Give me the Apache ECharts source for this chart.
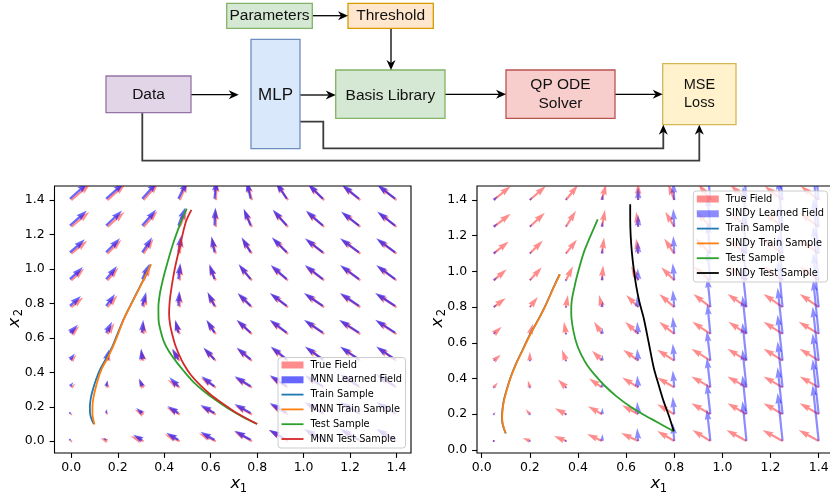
<!DOCTYPE html>
<html><head><meta charset="utf-8">
<script src="https://cdn.jsdelivr.net/npm/echarts@6/dist/echarts.min.js"></script>
<style>html,body{margin:0;padding:0;background:#fff}#c{width:830px;height:496px}</style>
</head><body><div id="c"></div>
<script>
// ---------------- data ----------------
const TICKS = [0, 0.2, 0.4, 0.6, 0.8, 1.0, 1.2, 1.4];

const X1_GRID_LEFT = [0, 0.1556, 0.3111, 0.4667, 0.6222, 0.7778, 0.9333, 1.0889, 1.2444, 1.4];
const X2_GRID_LEFT = [0, 0.1556, 0.3111, 0.4667, 0.6222, 0.7778, 0.9333, 1.0889, 1.2444, 1.4];
const X1_GRID_MNN = [-0.006, 0.1496, 0.3051, 0.4607, 0.6162, 0.7718, 0.9273, 1.0829, 1.2384, 1.394];
const X2_GRID_MNN = [0.008, 0.1636, 0.3191, 0.4747, 0.6302, 0.7858, 0.9413, 1.0969, 1.2524, 1.408];
const X1_GRID_RIGHT = [0.05, 0.2, 0.35, 0.5, 0.65, 0.8, 0.95, 1.1, 1.25, 1.4];
const X2_GRID_RIGHT = [0.05, 0.2, 0.35, 0.5, 0.65, 0.8, 0.95, 1.1, 1.25, 1.4];

// rows: x2 from bottom to top, columns: x1 from left to right
const TRUE_U_LEFT = [
  [-0.05,-0.7,-1.3,-1.5,-1.7,-1.8,-1.9,-1.9,-1.9,-1.9],
  [0.15,-0.2,-0.9,-1.3,-1.5,-1.7,-1.8,-1.9,-1.9,-1.9],
  [0.4,0.0,-0.5,-1.2,-1.5,-1.7,-1.8,-1.9,-1.9,-1.9],
  [0.5,0.2,-0.3,-0.8,-1.2,-1.5,-1.7,-1.8,-1.9,-1.9],
  [0.8,0.7,0.0,-0.5,-0.9,-1.5,-1.8,-1.9,-2.0,-2.0],
  [1.2,1.0,0.3,0.0,-0.8,-1.4,-1.7,-1.9,-2.0,-2.0],
  [1.3,1.1,0.7,0.1,-0.7,-1.3,-1.7,-1.9,-1.9,-1.9],
  [1.6,1.4,1.0,0.2,-0.4,-1.0,-1.5,-1.8,-1.9,-1.9],
  [1.8,1.7,1.4,0.7,0.0,-0.8,-1.5,-1.8,-1.8,-1.8],
  [1.9,1.8,1.5,0.8,0.1,-0.5,-1.2,-1.6,-1.8,-1.8]
];
const TRUE_V_LEFT = [
  [0.03,0.3,0.5,0.7,0.8,1.0,1.1,1.1,1.1,1.1],
  [0.15,0.4,0.5,0.7,0.8,0.9,1.0,1.1,1.1,1.1],
  [0.4,0.7,0.8,0.8,1.0,1.0,1.1,1.1,1.2,1.2],
  [0.6,1.0,1.1,1.1,1.2,1.2,1.3,1.3,1.3,1.3],
  [0.8,1.1,1.2,1.3,1.3,1.3,1.3,1.3,1.3,1.3],
  [1.0,1.2,1.3,1.5,1.4,1.3,1.3,1.3,1.3,1.3],
  [1.2,1.3,1.5,1.6,1.5,1.5,1.4,1.4,1.4,1.4],
  [1.3,1.4,1.5,1.7,1.6,1.5,1.5,1.4,1.4,1.4],
  [1.5,1.5,1.6,1.7,1.8,1.7,1.6,1.5,1.4,1.4],
  [1.6,1.6,1.7,1.8,1.9,1.8,1.7,1.5,1.4,1.4]
];
const MNN_U = [
  [0.0,-0.3,-0.9,-1.2,-1.4,-1.6,-1.8,-1.9,-1.9,-1.9],
  [0.15,0.1,-0.6,-1.1,-1.4,-1.6,-1.7,-1.8,-1.9,-1.9],
  [0.35,0.15,-0.3,-0.9,-1.3,-1.6,-1.7,-1.8,-1.9,-1.9],
  [0.5,0.3,-0.1,-0.6,-1.1,-1.4,-1.6,-1.8,-1.9,-1.9],
  [0.8,0.6,0.1,-0.3,-0.8,-1.4,-1.7,-1.9,-2.0,-2.0],
  [1.1,0.9,0.4,0.1,-0.7,-1.3,-1.7,-1.9,-1.9,-2.0],
  [1.3,1.1,0.7,0.2,-0.5,-1.2,-1.6,-1.8,-1.9,-1.9],
  [1.5,1.4,1.0,0.3,-0.3,-0.9,-1.5,-1.8,-1.9,-1.9],
  [1.7,1.6,1.4,0.7,0.1,-0.7,-1.4,-1.7,-1.8,-1.8],
  [1.8,1.8,1.5,0.9,0.2,-0.4,-1.1,-1.5,-1.7,-1.8]
];
const MNN_V = [
  [0.02,0.2,0.5,0.7,0.8,0.9,1.0,1.1,1.1,1.1],
  [0.15,0.4,0.5,0.7,0.8,0.9,1.0,1.1,1.1,1.1],
  [0.4,0.6,0.8,0.9,1.0,1.0,1.1,1.1,1.2,1.2],
  [0.6,1.0,1.1,1.1,1.2,1.2,1.3,1.3,1.3,1.3],
  [0.8,1.1,1.3,1.3,1.3,1.3,1.3,1.3,1.3,1.3],
  [1.0,1.2,1.4,1.5,1.4,1.3,1.3,1.3,1.3,1.3],
  [1.2,1.3,1.5,1.6,1.5,1.5,1.4,1.4,1.4,1.4],
  [1.3,1.4,1.5,1.7,1.6,1.5,1.5,1.4,1.4,1.4],
  [1.5,1.5,1.6,1.8,1.8,1.7,1.6,1.5,1.4,1.4],
  [1.6,1.6,1.7,1.8,1.9,1.8,1.7,1.5,1.4,1.4]
];
const TRUE_U_RIGHT = [
  [0.05,-0.7,-1.2,-1.5,-1.7,-1.7,-1.8,-2.0,-2.0,-2.0],
  [0.2,-0.4,-1.1,-1.4,-1.6,-1.7,-1.9,-1.9,-1.9,-1.9],
  [0.4,-0.2,-0.8,-1.3,-1.6,-1.7,-1.9,-1.9,-1.9,-1.9],
  [0.7,0.0,-0.4,-1.0,-1.5,-1.7,-1.9,-1.9,-1.9,-1.9],
  [0.8,0.3,-0.2,-0.8,-1.3,-1.5,-1.8,-1.8,-1.9,-2.0],
  [1.2,0.8,0.2,-0.3,-1.2,-1.5,-1.7,-1.9,-1.9,-1.9],
  [1.3,1.2,0.7,0.1,-0.7,-1.3,-1.7,-1.9,-1.9,-1.9],
  [1.5,1.3,1.1,0.2,-0.2,-1.0,-1.5,-1.8,-1.9,-1.9],
  [1.7,1.5,1.0,0.3,-0.2,-0.9,-1.4,-1.7,-1.8,-1.9],
  [1.7,1.6,1.2,0.4,0.0,-0.6,-1.2,-1.6,-1.8,-1.8]
];
const TRUE_V_RIGHT = [
  [0.05,0.3,0.5,0.7,0.8,1.0,1.1,1.1,1.1,1.1],
  [0.2,0.5,0.6,0.8,0.9,1.0,1.1,1.1,1.1,1.1],
  [0.5,0.7,0.8,0.9,1.0,1.0,1.1,1.1,1.1,1.1],
  [0.6,0.9,1.1,1.0,1.1,1.1,1.2,1.2,1.2,1.2],
  [0.7,1.0,1.2,1.2,1.2,1.2,1.2,1.2,1.2,1.2],
  [0.9,1.0,1.2,1.2,1.2,1.3,1.3,1.3,1.3,1.3],
  [1.1,1.3,1.4,1.5,1.4,1.3,1.4,1.4,1.4,1.4],
  [1.2,1.3,1.4,1.6,1.5,1.5,1.5,1.4,1.4,1.4],
  [1.3,1.4,1.6,1.7,1.5,1.5,1.5,1.5,1.4,1.4],
  [1.4,1.4,1.5,1.6,1.7,1.6,1.6,1.5,1.4,1.4]
];
const SINDY_U = [
  [0.05,0.05,0.02,0.05,-0.1,-0.15,-0.35,-0.4,-0.5,-0.6],
  [0.1,0.05,0.02,0.05,-0.1,-0.15,-0.35,-0.4,-0.5,-0.6],
  [0.15,0.1,0.05,0.05,-0.1,-0.15,-0.35,-0.4,-0.5,-0.6],
  [0.2,0.1,0.05,0.05,-0.1,-0.15,-0.35,-0.4,-0.5,-0.6],
  [0.25,0.15,0.05,0.05,-0.1,-0.15,-0.3,-0.4,-0.5,-0.55],
  [0.3,0.15,0.05,0.05,-0.1,-0.15,-0.3,-0.4,-0.45,-0.55],
  [0.35,0.2,0.05,0.05,-0.05,-0.15,-0.3,-0.4,-0.45,-0.55],
  [0.35,0.2,0.1,0.05,-0.05,-0.1,-0.3,-0.35,-0.45,-0.55],
  [0.4,0.25,0.1,0.05,0.0,-0.1,-0.3,-0.35,-0.45,-0.55],
  [0.4,0.25,0.1,0.05,0.0,-0.1,-0.3,-0.35,-0.45,-0.55]
];
const SINDY_V = [
  [0.05,0.05,0.1,0.7,1.3,1.8,3.2,4.0,4.8,5.6],
  [0.1,0.1,0.1,0.65,1.25,1.75,3.1,3.9,4.7,5.5],
  [0.15,0.1,0.12,0.6,1.2,1.7,3.0,3.8,4.6,5.4],
  [0.2,0.15,0.15,0.6,1.2,1.7,3.0,3.8,4.6,5.4],
  [0.25,0.15,0.15,0.6,1.2,1.7,3.0,3.8,4.6,5.4],
  [0.25,0.2,0.2,0.55,1.15,1.7,3.0,3.8,4.6,5.4],
  [0.3,0.2,0.2,0.55,1.2,1.7,3.0,3.8,4.6,5.4],
  [0.35,0.25,0.2,0.55,1.2,1.75,3.1,3.9,4.7,5.5],
  [0.35,0.25,0.25,0.55,1.2,1.8,3.1,4.0,4.8,5.5],
  [0.4,0.3,0.3,0.6,1.25,1.8,3.2,4.0,4.8,5.6]
];

// trajectories
const TRAIN_L_X1 = [0.097,0.088,0.081,0.080,0.084,0.093,0.107,0.125,0.150,0.175,0.195,0.224,0.255,0.285,0.315,0.342];
const TRAIN_L_X2 = [0.100,0.125,0.160,0.200,0.250,0.300,0.360,0.420,0.480,0.545,0.610,0.705,0.790,0.870,0.950,1.027];
const MNN_TRAIN_L_X1 = [0.100,0.095,0.091,0.091,0.095,0.103,0.115,0.131,0.155,0.178,0.198,0.225,0.256,0.286,0.316,0.343];
const MNN_TRAIN_L_X2 = [0.097,0.125,0.160,0.200,0.250,0.300,0.360,0.420,0.480,0.545,0.610,0.705,0.790,0.870,0.950,1.027];
const TEST_L_X1 = [0.800,0.740,0.672,0.620,0.571,0.525,0.485,0.450,0.420,0.398,0.385,0.376,0.375,0.382,0.393,0.406,0.435,0.471,0.497];
const TEST_L_X2 = [0.100,0.140,0.193,0.240,0.290,0.345,0.406,0.465,0.522,0.580,0.638,0.700,0.780,0.862,0.930,0.998,1.134,1.269,1.350];
const MNN_TEST_L_X1 = [0.800,0.750,0.700,0.650,0.600,0.555,0.514,0.485,0.464,0.447,0.435,0.425,0.421,0.423,0.428,0.445,0.468,0.492,0.517];
const MNN_TEST_L_X2 = [0.100,0.135,0.174,0.220,0.270,0.325,0.386,0.445,0.502,0.560,0.618,0.680,0.740,0.800,0.862,0.998,1.134,1.269,1.343];

const TRAIN_R_X1 = [0.100,0.092,0.086,0.084,0.086,0.091,0.100,0.119,0.140,0.167,0.200,0.237,0.265,0.295,0.324];
const TRAIN_R_X2 = [0.093,0.120,0.150,0.180,0.225,0.272,0.320,0.403,0.475,0.552,0.645,0.735,0.810,0.900,0.984];
const SINDY_TRAIN_R_X1 = [0.100,0.093,0.087,0.085,0.087,0.092,0.101,0.120,0.141,0.168,0.201,0.238,0.266,0.296,0.325];
const SINDY_TRAIN_R_X2 = [0.093,0.120,0.150,0.180,0.225,0.272,0.320,0.403,0.475,0.552,0.645,0.735,0.810,0.900,0.984];
const TEST_R_X1 = [0.798,0.730,0.673,0.620,0.560,0.507,0.470,0.437,0.413,0.396,0.382,0.373,0.372,0.375,0.385,0.396,0.424,0.458,0.482];
const TEST_R_X2 = [0.104,0.155,0.197,0.240,0.300,0.365,0.420,0.477,0.535,0.589,0.660,0.739,0.790,0.844,0.910,0.974,1.105,1.217,1.292];
const SINDY_TEST_R_X1 = [0.798,0.778,0.756,0.735,0.715,0.694,0.673,0.655,0.642,0.632,0.624,0.619,0.617,0.617];
const SINDY_TEST_R_X2 = [0.104,0.190,0.272,0.365,0.459,0.600,0.739,0.830,0.918,1.010,1.105,1.200,1.292,1.376];

const LEFT_LEGEND = ['True Field', 'MNN Learned Field', 'Train Sample', 'MNN Train Sample', 'Test Sample', 'MNN Test Sample'];
const RIGHT_LEGEND = ['True Field', 'SINDy Learned Field', 'Train Sample', 'SINDy Train Sample', 'Test Sample', 'SINDy Test Sample'];
const DIAGRAM_LABELS = ['Parameters', 'Threshold', 'MLP', 'Data', 'Basis Library', 'QP ODE\nSolver', 'MSE\nLoss'];

// ---------------- styles / layout ----------------
const RED = 'rgba(255,0,0,0.45)';
const BLUE_L = 'rgba(0,0,255,0.6)';
const BLUE_R = 'rgba(0,0,255,0.45)';
const C_TRAIN = '#1f77b4', C_MTRAIN = '#ff7f0e', C_TEST = '#2ca02c', C_MTEST = '#d62728', C_STEST = '#000000';
const ARROW_SCALE = 10, SHAFT_W = 2.2, HEAD_W = 6.6, HEAD_L = 11, HEAD_AL = 9.9;
const FONT = 'DejaVu Sans';

function quiverData(xs, ys, U, V) {
  const out = [];
  for (let j = 0; j < ys.length; j++)
    for (let i = 0; i < xs.length; i++) out.push([xs[i], ys[j], U[j][i], V[j][i]]);
  return out;
}
function arrowRenderer(color) {
  return function (params, api) {
    const p = api.coord([api.value(0), api.value(1)]);
    const dx = api.value(2) * ARROW_SCALE, dy = -api.value(3) * ARROW_SCALE;
    const L = Math.hypot(dx, dy);
    let pts;
    if (L < SHAFT_W) {
      const r = SHAFT_W / 2;
      pts = [];
      for (let k = 0; k < 6; k++) pts.push([p[0] + r * Math.cos(k * Math.PI / 3), p[1] + r * Math.sin(k * Math.PI / 3)]);
    } else {
      let s = 1, Lr = L;
      if (L < HEAD_L) { s = L / HEAD_L; Lr = HEAD_L; }
      const w = SHAFT_W / 2, hw = HEAD_W / 2;
      const local = [[0, -w], [Lr - HEAD_AL, -w], [Lr - HEAD_L, -hw], [Lr, 0], [Lr - HEAD_L, hw], [Lr - HEAD_AL, w], [0, w]];
      const c = dx / L, sn = dy / L;
      pts = local.map(([a, b]) => [p[0] + s * (a * c - b * sn), p[1] + s * (a * sn + b * c)]);
    }
    return { type: 'polygon', shape: { points: pts }, style: { fill: color } };
  };
}
function zip(a, b) { return a.map((v, i) => [v, b[i]]); }

function quiverSeries(name, gi, data, color) {
  return { type: 'custom', name, xAxisIndex: gi, yAxisIndex: gi, data, clip: true, silent: true,
    itemStyle: { color }, encode: { x: 0, y: 1 }, renderItem: arrowRenderer(color), animation: false };
}
function lineSeries(name, gi, xs, ys, color) {
  return { type: 'line', name, xAxisIndex: gi, yAxisIndex: gi, data: zip(xs, ys), showSymbol: false, symbol: 'none',
    smooth: 0.3, lineStyle: { color, width: 1.8 }, itemStyle: { color }, silent: true, animation: false, z: 3 };
}
function axisCfg(gi, min, max, margin) {
  return { type: 'value', gridIndex: gi, min, max, axisLine: { show: false, onZero: false }, splitLine: { show: false },
    axisTick: { show: true, inside: false, length: 4.9, lineStyle: { color: '#000', width: 1.1 }, customValues: TICKS },
    axisLabel: { customValues: TICKS, formatter: v => v.toFixed(1), margin, color: '#000', fontFamily: FONT, fontSize: 12.5 } };
}
const PATCH_NAMES = ['True Field', 'MNN Learned Field', 'SINDy Learned Field'];
function legendCfg(names, left, top, padding) {
  return {
    data: names.map(n => ({ name: n, icon: PATCH_NAMES.includes(n) ? 'rect' : 'path://M0,0L22,0L22,1.8L0,1.8Z' })),
    left, top, orient: 'vertical', itemWidth: 22, itemHeight: 7, itemGap: 2.8, padding,
    backgroundColor: 'rgba(255,255,255,0.8)', borderColor: '#cccccc', borderWidth: 1, borderRadius: 3,
    selectedMode: false, itemStyle: { borderWidth: 0 },
    textStyle: { fontFamily: FONT, fontSize: 9.8, color: '#000', lineHeight: 12, padding: [0, 0, 0, 2] }
  };
}

// ---------------- diagram ----------------
const BOX_LAYOUT = [
  { x: 226.7, y: 3.3, w: 85.6, h: 25, fill: '#d5e8d4', stroke: '#82b366', fs: 15.5, ty: 15.8, lh: 18 },
  { x: 348, y: 3.3, w: 85.3, h: 25, fill: '#ffe6cc', stroke: '#d79b00', fs: 15.5, ty: 15.8, lh: 18 },
  { x: 251, y: 39.3, w: 49, h: 109.4, fill: '#dae8fc', stroke: '#6c8ebf', fs: 17, ty: 95.5, lh: 18 },
  { x: 106, y: 76, w: 85, h: 36.7, fill: '#e1d5e7', stroke: '#9673a6', fs: 15.5, ty: 94.3, lh: 18 },
  { x: 335.7, y: 70, w: 109.3, h: 48.3, fill: '#d5e8d4', stroke: '#82b366', fs: 15.5, ty: 95.5, lh: 18 },
  { x: 506, y: 70, w: 109, h: 48.3, fill: '#f8cecc', stroke: '#b85450', fs: 15.5, ty: 94.5, lh: 19.4 },
  { x: 662.7, y: 63.7, w: 73.3, h: 61, fill: '#fff2cc', stroke: '#d6b656', fs: 14.5, ty: 94, lh: 17.5 }
];
const CONNECTORS = [
  { pts: [[312.3, 15.7], [348, 15.7]], w: 1.3, c: '#000' },
  { pts: [[391, 28.3], [391, 70]], w: 1.3, c: '#000' },
  { pts: [[191, 94.7], [238.7, 94.7]], w: 1.3, c: '#000' },
  { pts: [[300, 95], [335.7, 95]], w: 1.5, c: '#222' },
  { pts: [[445, 94.3], [506, 94.3]], w: 1.3, c: '#000' },
  { pts: [[615, 94.3], [662.7, 94.3]], w: 1.3, c: '#000' },
  { pts: [[300, 121.7], [323.3, 121.7], [323.3, 148.3], [663.3, 148.3], [663.3, 124.7]], w: 1.8, c: '#3c3c3c' },
  { pts: [[142.3, 112.7], [142.3, 160.7], [699.3, 160.7], [699.3, 124.7]], w: 1.8, c: '#3c3c3c' }
];
function diagramGraphics() {
  const els = [];
  const AL = 10, AW = 9, NOTCH = 0.7;
  const heads = [];
  CONNECTORS.forEach(cn => {
    const pts = cn.pts.map(p => p.slice());
    const e = pts[pts.length - 1], s = pts[pts.length - 2];
    const L = Math.hypot(e[0] - s[0], e[1] - s[1]);
    const ux = (e[0] - s[0]) / L, uy = (e[1] - s[1]) / L;
    const nx = -uy, ny = ux;
    heads.push([[e[0], e[1]], [e[0] - ux * AL + nx * AW / 2, e[1] - uy * AL + ny * AW / 2],
      [e[0] - ux * AL * NOTCH, e[1] - uy * AL * NOTCH], [e[0] - ux * AL - nx * AW / 2, e[1] - uy * AL - ny * AW / 2]]);
    pts[pts.length - 1] = [e[0] - ux * AL * NOTCH, e[1] - uy * AL * NOTCH];
    els.push({ type: 'polyline', shape: { points: pts }, style: { stroke: cn.c, lineWidth: cn.w, fill: null }, silent: true });
  });
  BOX_LAYOUT.forEach((b, i) => {
    els.push({ type: 'rect', shape: { x: b.x, y: b.y, width: b.w, height: b.h },
      style: { fill: b.fill, stroke: b.stroke, lineWidth: 1.3 }, silent: true });
    els.push({ type: 'text', x: b.x + b.w / 2, y: b.ty, silent: true,
      style: { text: DIAGRAM_LABELS[i], align: 'center', verticalAlign: 'middle', fontSize: b.fs,
        fontFamily: 'Liberation Sans, Arial, Helvetica', fill: '#111', lineHeight: b.lh } });
  });
  heads.forEach(h => els.push({ type: 'polygon', shape: { points: h }, style: { fill: '#000' }, silent: true }));
  return els;
}
function axisTitle(x, y, sub, sx, sy, rot) {
  return [
    { type: 'text', x, y, rotation: rot, silent: true,
      style: { text: 'x', align: 'center', verticalAlign: 'middle', fontSize: 16.5, fontStyle: 'italic', fontFamily: FONT, fill: '#000' } },
    { type: 'text', x: sx, y: sy, rotation: rot, silent: true,
      style: { text: sub, align: 'center', verticalAlign: 'middle', fontSize: 11.5, fontFamily: FONT, fill: '#000' } }
  ];
}

// ---------------- chart ----------------
const chart = echarts.init(document.getElementById('c'), null, { renderer: 'canvas' });
const option = {
  animation: false,
  backgroundColor: '#ffffff',
  grid: [
    { left: 54.5, top: 186, width: 356.5, height: 267, show: true, borderColor: '#000', borderWidth: 1.1, backgroundColor: 'transparent', outerBoundsMode: 'none', containLabel: false },
    { left: 477, top: 186, width: 356.5, height: 267, show: true, borderColor: '#000', borderWidth: 1.1, backgroundColor: 'transparent', outerBoundsMode: 'none', containLabel: false }
  ],
  xAxis: [axisCfg(0, -0.0723, 1.4623, 8), axisCfg(1, -0.0195, 1.4616, 8)],
  yAxis: [axisCfg(0, -0.0685, 1.482, 9.8), axisCfg(1, -0.0174, 1.4784, 9.8)],
  legend: [legendCfg(LEFT_LEGEND, 278, 357.5, [1.5, 3.5, 3, 3.5]), legendCfg(RIGHT_LEGEND, 693.3, 191, [2, 3.5, 3, 3.5])],
  series: [
    quiverSeries('True Field', 0, quiverData(X1_GRID_LEFT, X2_GRID_LEFT, TRUE_U_LEFT, TRUE_V_LEFT), RED),
    quiverSeries('MNN Learned Field', 0, quiverData(X1_GRID_MNN, X2_GRID_MNN, MNN_U, MNN_V), BLUE_L),
    lineSeries('Train Sample', 0, TRAIN_L_X1, TRAIN_L_X2, C_TRAIN),
    lineSeries('MNN Train Sample', 0, MNN_TRAIN_L_X1, MNN_TRAIN_L_X2, C_MTRAIN),
    lineSeries('Test Sample', 0, TEST_L_X1, TEST_L_X2, C_TEST),
    lineSeries('MNN Test Sample', 0, MNN_TEST_L_X1, MNN_TEST_L_X2, C_MTEST),
    quiverSeries('True Field', 1, quiverData(X1_GRID_RIGHT, X2_GRID_RIGHT, TRUE_U_RIGHT, TRUE_V_RIGHT), RED),
    quiverSeries('SINDy Learned Field', 1, quiverData(X1_GRID_RIGHT, X2_GRID_RIGHT, SINDY_U, SINDY_V), BLUE_R),
    lineSeries('Train Sample', 1, TRAIN_R_X1, TRAIN_R_X2, C_TRAIN),
    lineSeries('SINDy Train Sample', 1, SINDY_TRAIN_R_X1, SINDY_TRAIN_R_X2, C_MTRAIN),
    lineSeries('Test Sample', 1, TEST_R_X1, TEST_R_X2, C_TEST),
    lineSeries('SINDy Test Sample', 1, SINDY_TEST_R_X1, SINDY_TEST_R_X2, C_STEST)
  ],
  graphic: { elements: [].concat(
    diagramGraphics(),
    axisTitle(235.5, 483.5, '1', 243.5, 489.5, 0),
    axisTitle(655.5, 483.5, '1', 663.5, 489.5, 0),
    axisTitle(14.5, 322.5, '2', 19.5, 312.5, Math.PI / 2),
    axisTitle(437.5, 322.5, '2', 442.5, 312.5, Math.PI / 2)
  ) }
};
chart.setOption(option);
</script></body></html>
